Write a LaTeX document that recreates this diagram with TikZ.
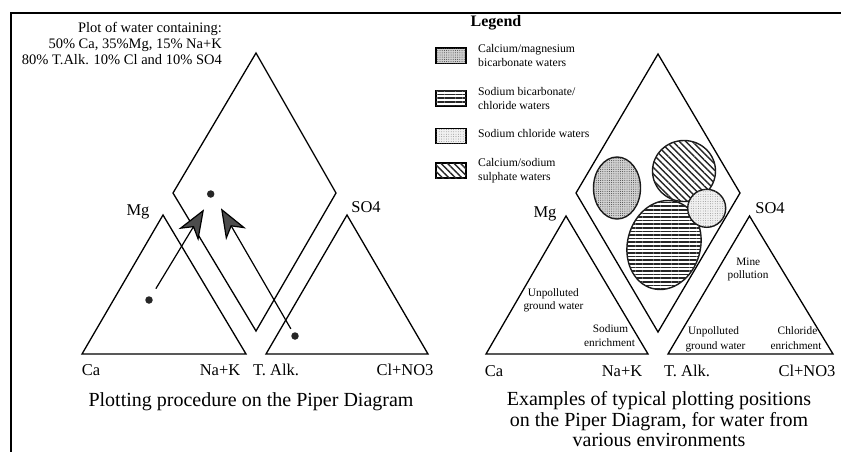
\documentclass[tikz,border=0pt]{standalone}
\usepackage{fontspec}
\setmainfont{Liberation Serif}
\usetikzlibrary{arrows.meta,patterns.meta}
\begin{document}
\begin{tikzpicture}[x=1pt,y=-1pt,
  edge/.style={line width=1.3pt,line join=miter},
  lbl/.style={font=\fontsize{16.5}{18}\selectfont,anchor=base,inner sep=0pt},
  note/.style={font=\fontsize{14.5}{16}\selectfont,anchor=base east,inner sep=0pt},
  capt/.style={font=\fontsize{20}{22}\selectfont,anchor=base,inner sep=0pt},
  legtxt/.style={font=\fontsize{11.7}{13}\selectfont,anchor=base west,inner sep=0pt},
  small/.style={font=\fontsize{11.3}{12}\selectfont,anchor=base,inner sep=0pt},
  dotn/.style={circle,fill=black!85,inner sep=0pt,outer sep=0pt,minimum size=7.5pt},
  arr/.style={line width=1.2pt,-{Stealth[length=30pt,width=23pt,inset=9pt,fill=black!70]}},
  stipA/.style={fill=gray!35,postaction={pattern={Dots[distance=2.2pt,radius=0.5pt]},pattern color=black!75}},
  stipB/.style={fill=gray!12,postaction={pattern={Dots[distance=2.4pt,radius=0.4pt]},pattern color=black!55}},
  hlines/.style={fill=white,postaction={pattern={Lines[angle=0,distance=3.6pt,line width=1.5pt]},pattern color=black!85}},
  dlines/.style={fill=white,postaction={pattern={Lines[angle=-45,distance=4.6pt,line width=1.4pt]},pattern color=black!85}},
  blob/.style={line width=1.4pt,draw=black!90}]
\useasboundingbox (0,0) rectangle (841,451);
\fill[white] (0,0) rectangle (841,451);
% frame
\coordinate (fb) at (11,452);
\coordinate (fc) at (11,13);
\coordinate (fr) at (842,13);
\draw[line width=1.6pt] (fb) -- (fc) -- (fr);

% ---------------- left panel ----------------
\node[note] (n1) at (222,32.7) {Plot of water containing:};
\node[note] (n2) at (222,48.3) {50\% Ca, 35\%Mg, 15\% Na+K};
\node[note] (n3) at (222,64) {80\% T.Alk. 10\% Cl and 10\% SO4};

\coordinate (LdT) at (256,53);
\coordinate (LdL) at (173,193);
\coordinate (LdR) at (336,193);
\coordinate (LdB) at (256,331);
\draw[edge] (LdT) -- (LdR) -- (LdB) -- (LdL) -- cycle;

\coordinate (LaA) at (163,215);
\coordinate (LaB) at (82,354);
\coordinate (LaC) at (246,354);
\draw[edge] (LaA) -- (LaC) -- (LaB) -- cycle;

\coordinate (LbA) at (347,215);
\coordinate (LbB) at (266,354);
\coordinate (LbC) at (428,354);
\draw[edge] (LbA) -- (LbC) -- (LbB) -- cycle;

\node[lbl] (lMg) at (138,215) {Mg};
\node[lbl] (lSO) at (366,212.5) {SO4};
\node[lbl] (lCa) at (91,375.5) {Ca};
\node[lbl] (lNa) at (220,375.5) {Na+K};
\node[lbl] (lTA) at (276,375.5) {T. Alk.};
\node[lbl] (lCl) at (405,375.5) {Cl+NO3};

\node[dotn] (dD) at (210.7,194) {};
\node[dotn] (dL) at (149,300) {};
\node[dotn] (dR) at (295,336) {};
\coordinate (tL) at (204,209.3);
\coordinate (tR) at (221,208.3);
\draw[arr,shorten <=9.5pt] (dL) -- (tL);
\draw[arr,shorten <=4.5pt] (dR) -- (tR);

\node[capt] (capL) at (251,406) {Plotting procedure on the Piper Diagram};

% ---------------- right panel ----------------
\node[font=\bfseries\fontsize{16}{18}\selectfont,anchor=base,inner sep=0pt] (leg) at (496,26.5) {Legend};

\draw[stipA,line width=1.3pt] (436,48) rectangle (466,63.5);
\draw[hlines,line width=1.3pt] (436,90.5) rectangle (466,106);
\draw[stipB,line width=1.3pt] (436,128.5) rectangle (466,143.5);
\draw[dlines,line width=1.3pt] (436,163) rectangle (466,178);

\node[legtxt] (g1a) at (478,52.5) {Calcium/magnesium};
\node[legtxt] (g1b) at (478,66) {bicarbonate waters};
\node[legtxt] (g2a) at (478,95.5) {Sodium bicarbonate/};
\node[legtxt] (g2b) at (478,109.5) {chloride waters};
\node[legtxt] (g3a) at (478,137.5) {Sodium chloride waters};
\node[legtxt] (g4a) at (478,166) {Calcium/sodium};
\node[legtxt] (g4b) at (478,180) {sulphate waters};

\coordinate (RdT) at (658,54);
\coordinate (RdL) at (576,193);
\coordinate (RdR) at (740,193);
\coordinate (RdB) at (658,332);
\draw[edge] (RdT) -- (RdR) -- (RdB) -- (RdL) -- cycle;

\coordinate (RaA) at (566,216);
\coordinate (RaB) at (486,354);
\coordinate (RaC) at (648,354);
\draw[edge] (RaA) -- (RaC) -- (RaB) -- cycle;

\coordinate (RbA) at (749.5,216);
\coordinate (RbB) at (668,354);
\coordinate (RbC) at (833,354);
\draw[edge] (RbA) -- (RbC) -- (RbB) -- cycle;

% water-type fields
\coordinate (eA) at (617,188);
\coordinate (eB) at (664,245);
\coordinate (eC) at (684,171);
\coordinate (eD) at (706.7,208.3);
\draw[blob,stipA] (eA) ellipse [x radius=23.5,y radius=31];
\draw[blob,hlines,rotate around={-15:(eB)}] (eB) ellipse [x radius=36.5,y radius=45];
\draw[blob,dlines] (eC) ellipse [x radius=31.5,y radius=30.5];
\draw[blob,stipB] (eD) circle [radius=19];

\node[lbl] (rMg) at (545,217) {Mg};
\node[lbl] (rSO) at (770,213) {SO4};
\node[lbl] (rCa) at (494,376) {Ca};
\node[lbl] (rNa) at (622,376) {Na+K};
\node[lbl] (rTA) at (687,376) {T. Alk.};
\node[lbl] (rCl) at (807,376) {Cl+NO3};

\node[small] (s1a) at (553.4,296) {Unpolluted};
\node[small] (s1b) at (553.5,309.5) {ground water};
\node[small] (s2a) at (610.5,332.7) {Sodium};
\node[small] (s2b) at (609.5,346.5) {enrichment};
\node[small] (s3a) at (748.3,265) {Mine};
\node[small] (s3b) at (748,278.5) {pollution};
\node[small] (s4a) at (713.5,334.5) {Unpolluted};
\node[small] (s4b) at (715.5,349) {ground water};
\node[small] (s5a) at (797.5,334.5) {Chloride};
\node[small] (s5b) at (796,349) {enrichment};

\node[capt] (capR1) at (659,405) {Examples of typical plotting positions};
\node[capt] (capR2) at (659,426) {on the Piper Diagram, for water from};
\node[capt] (capR3) at (659,446.5) {various environments};
\end{tikzpicture}
\end{document}
